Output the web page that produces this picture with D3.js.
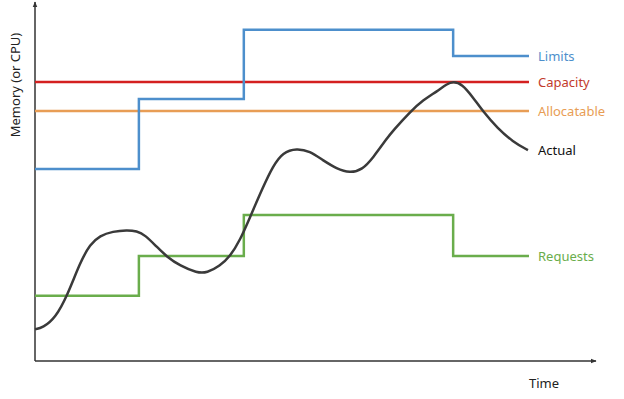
<!DOCTYPE html>
<html>
<head>
<meta charset="utf-8">
<script src="https://cdn.jsdelivr.net/npm/d3@7"></script>
<style>
  body { margin: 0; background: #fff; }
  text { font-family: "Noto Sans", sans-serif; }
</style>
</head>
<body>
<div id="chart"></div>
<script>
// Step series: [time, value] pairs (value holds until next time)
var limitsSteps   = [[0, 53.6], [20, 73.2], [40.2, 92.5], [80.5, 85.2], [95.1, 85.2]];
var requestsSteps = [[0, 18.2], [20, 29.3], [40.2, 40.8], [80.5, 29.3], [95.1, 29.3]];
var capacity    = 77.9;
var allocatable = 69.8;
var endTime     = 95.1;

// Actual usage
var actualTime = [0, 1.5, 3.9, 6.2, 8.7, 10.6, 12.5, 15.0, 17.7, 19.6, 21.2, 23.5, 25.4, 27.9,
  31.2, 33.1, 35.6, 37.5, 39.5, 41.4, 43.9, 45.8, 47.7, 50.4, 52.9, 55.4, 58.1, 60.6, 63.0,
  65.1, 67.8, 68.9, 72.2, 74.7, 77.4, 79.3, 80.5, 82.2, 84.3, 86.3, 89.0, 92.0, 94.9];
var actualValue = [8.9, 9.3, 12.0, 18.2, 27.6, 32.6, 35.0, 36.2, 36.6, 36.3, 35.2, 31.8, 29.1, 26.6,
  24.6, 24.6, 26.6, 29.1, 33.8, 40.2, 48.6, 54.4, 58.3, 59.4, 58.6, 56.1, 53.7, 52.5, 53.4,
  56.8, 62.3, 64.3, 69.6, 72.9, 75.3, 77.4, 78.1, 77.4, 73.7, 69.6, 65.1, 61.2, 58.9];

var labels = ["Limits", "Capacity", "Allocatable", "Actual", "Requests"];
var labelValues = [85.2, capacity, allocatable, 58.9, 29.3];
var lineColors  = ["#4d8fcc", "#d42020", "#e89d55", "#3a3a3a", "#6aad4c"];
var labelColors = ["#4d8fcc", "#c23a2c", "#e89d55", "#111111", "#6aad4c"];

var width = 624, height = 399;
var x = d3.scaleLinear().domain([0, 108]).range([35, 596]);
var y = d3.scaleLinear().domain([0, 100]).range([361, 3]);

var svg = d3.select("#chart").append("svg")
  .attr("width", width)
  .attr("height", height);

svg.append("defs").append("marker")
  .attr("id", "arrow")
  .attr("viewBox", "0 0 10 10")
  .attr("refX", 9).attr("refY", 5)
  .attr("markerWidth", 6).attr("markerHeight", 6)
  .attr("markerUnits", "userSpaceOnUse")
  .attr("orient", "auto")
  .append("path")
  .attr("d", "M0,1L10,5L0,9Z")
  .attr("fill", "#333");

// axes
svg.append("line")
  .attr("x1", x(0)).attr("x2", x(0))
  .attr("y1", y(0)).attr("y2", 2)
  .attr("stroke", "#333").attr("stroke-width", 1.5)
  .attr("marker-end", "url(#arrow)");
svg.append("line")
  .attr("x1", x(0)).attr("x2", x(108))
  .attr("y1", y(0)).attr("y2", y(0))
  .attr("stroke", "#333").attr("stroke-width", 1.5)
  .attr("marker-end", "url(#arrow)");

var stepLine = d3.line()
  .x(function(d) { return x(d[0]); })
  .y(function(d) { return y(d[1]); })
  .curve(d3.curveStepAfter);

// flat lines
[capacity, allocatable].forEach(function(v, i) {
  svg.append("line")
    .attr("x1", x(0)).attr("x2", x(endTime))
    .attr("y1", y(v)).attr("y2", y(v))
    .attr("stroke", lineColors[i + 1]).attr("stroke-width", 2.5);
});

svg.append("path")
  .datum(limitsSteps)
  .attr("d", stepLine)
  .attr("fill", "none").attr("stroke", lineColors[0]).attr("stroke-width", 2.5);

svg.append("path")
  .datum(requestsSteps)
  .attr("d", stepLine)
  .attr("fill", "none").attr("stroke", lineColors[4]).attr("stroke-width", 2.5);

var actual = actualTime.map(function(t, i) { return [t, actualValue[i]]; });
svg.append("path")
  .datum(actual)
  .attr("d", d3.line()
    .x(function(d) { return x(d[0]); })
    .y(function(d) { return y(d[1]); })
    .curve(d3.curveBasis))
  .attr("fill", "none").attr("stroke", lineColors[3]).attr("stroke-width", 2.5);

// series labels
svg.selectAll(".lbl")
  .data(labels)
  .enter().append("text")
  .attr("class", "lbl")
  .attr("x", x(endTime) + 9)
  .attr("y", function(d, i) { return y(labelValues[i]); })
  .attr("dy", "0.35em")
  .attr("fill", function(d, i) { return labelColors[i]; })
  .style("font-size", "13px")
  .text(function(d) { return d; });

// axis titles
svg.append("text")
  .attr("transform", "translate(20,85) rotate(-90)")
  .attr("text-anchor", "middle")
  .attr("fill", "#222")
  .style("font-size", "13px")
  .text("Memory (or CPU)");

svg.append("text")
  .attr("x", 544).attr("y", 388)
  .attr("text-anchor", "middle")
  .attr("fill", "#222")
  .style("font-size", "13px")
  .text("Time");
</script>
</body>
</html>
